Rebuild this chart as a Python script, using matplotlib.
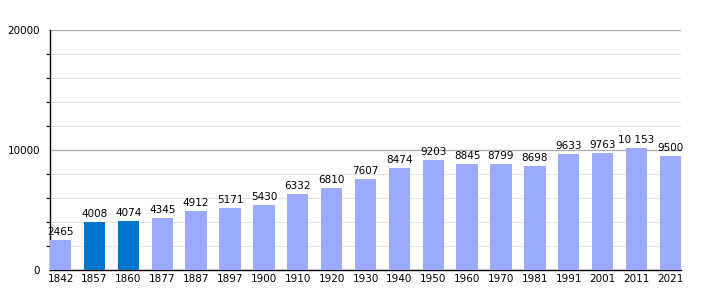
import numpy as np
import matplotlib.pyplot as plt
from matplotlib.ticker import MultipleLocator

# Population data
years = ['1842', '1857', '1860', '1877', '1887', '1897', '1900', '1910', '1920', '1930',
         '1940', '1950', '1960', '1970', '1981', '1991', '2001', '2011', '2021']
population = [2465, 4008, 4074, 4345, 4912, 5171, 5430, 6332, 6810, 7607,
              8474, 9203, 8845, 8799, 8698, 9633, 9763, 10153, 9500]
highlight = ['1857', '1860']

light = '#99aaff'
dark = '#0077cc'

fig = plt.figure(figsize=(7.1, 3.0), dpi=100)
ax = fig.add_axes([50 / 710, 0.1, 631 / 710, 0.8])

x = np.arange(len(years))
colors = [dark if y in highlight else light for y in years]
w = 0.63
ax.bar(x, population, width=w, align='edge', color=colors, zorder=3)

for xi, v in zip(x, population):
    # thousands separator only for 5+ digit numbers
    label = f'{v:,}'.replace(',', ' ') if v >= 10000 else str(v)
    ax.text(xi + w / 2, v + 250, label, ha='center', va='bottom', fontsize=7.5, zorder=4)

ax.set_xlim(0, len(years) - 1 + w)
ax.set_ylim(0, 20000)
ax.set_xticks(x + w / 2)
ax.set_xticklabels(years, fontsize=7.5)
ax.set_yticks([0, 10000, 20000])
ax.set_yticklabels(['0', '10000', '20000'], fontsize=7.5)
ax.yaxis.set_minor_locator(MultipleLocator(2000))

ax.grid(True, which='major', axis='y', color='#aaaaaa', linewidth=0.9, zorder=1)
ax.grid(True, which='minor', axis='y', color='#e4e4e4', linewidth=0.8, zorder=1)

ax.tick_params(axis='x', length=0, pad=3)
ax.tick_params(axis='y', which='major', length=0, pad=7)
ax.tick_params(axis='y', which='minor', length=3, width=0.8)

for s in ['top', 'right']:
    ax.spines[s].set_visible(False)
ax.spines['left'].set_linewidth(1)
ax.spines['bottom'].set_linewidth(1)

plt.savefig('out.png', dpi=100)
